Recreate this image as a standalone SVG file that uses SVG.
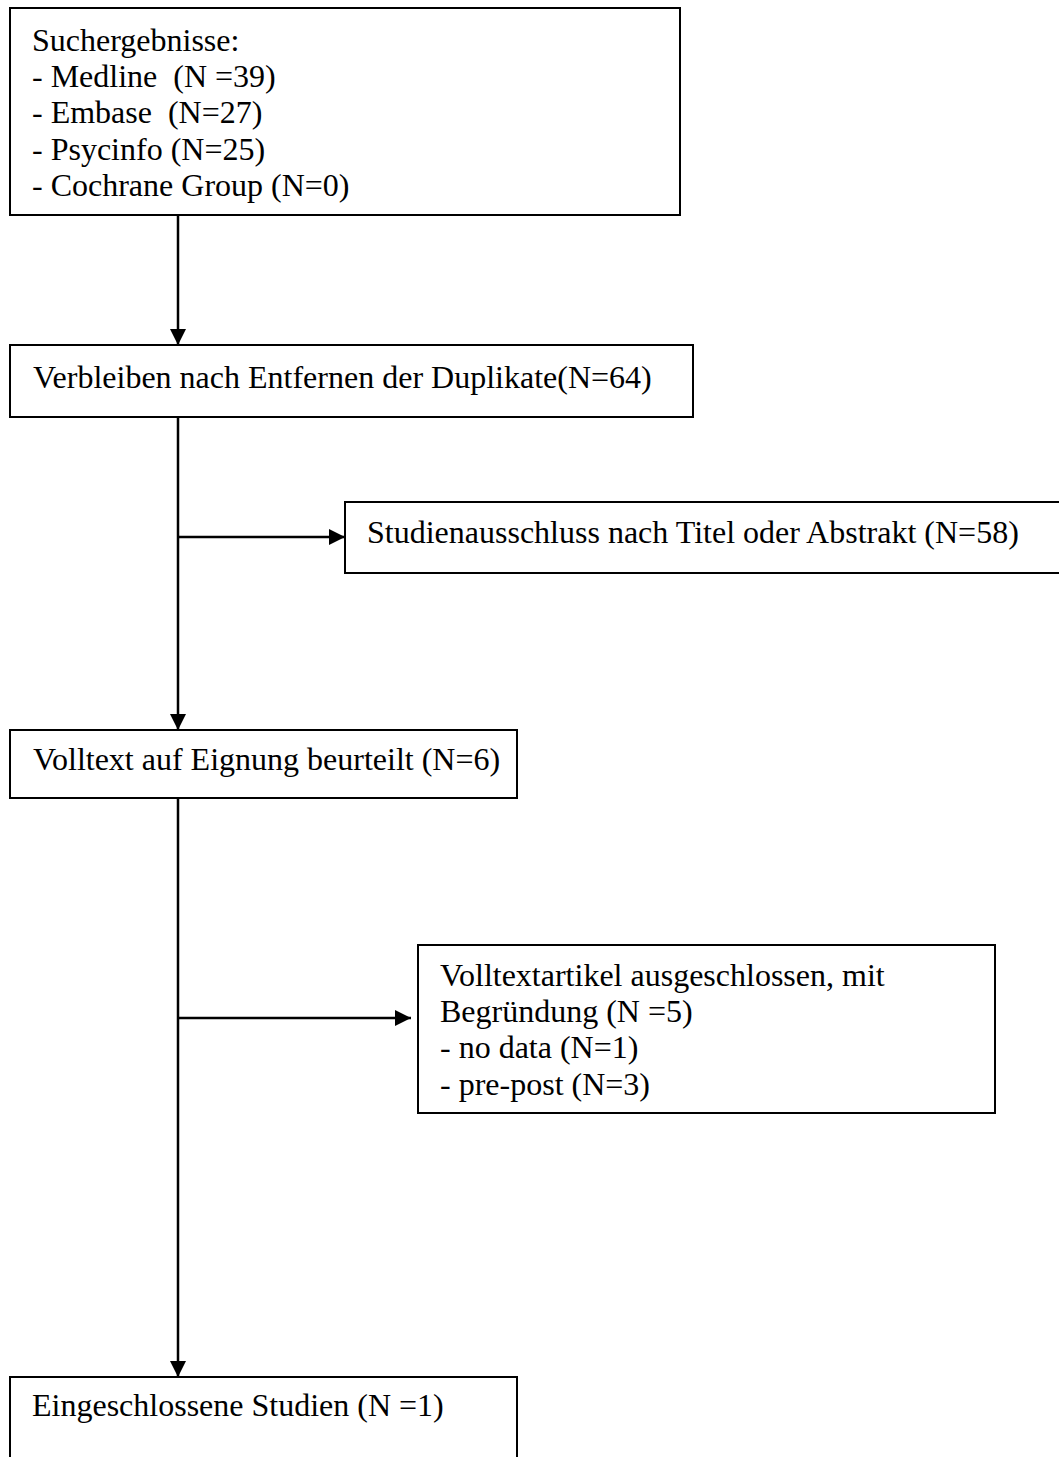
<svg xmlns="http://www.w3.org/2000/svg" width="1059" height="1457" viewBox="0 0 1059 1457">
<style>
.box{fill:#fff;stroke:#000;stroke-width:2}
.t{font-family:"Liberation Serif","Times New Roman",serif;font-size:32px;fill:#000}
.c{stroke:#000;stroke-width:2.5;fill:none}
</style>
<defs>
<marker id="ah" markerUnits="userSpaceOnUse" markerWidth="17" markerHeight="18" refX="16" refY="9" orient="auto">
<path d="M0,1 L16,9 L0,17 Z" fill="#000"/>
</marker>
</defs>
<rect width="1059" height="1457" fill="#fff"/>
<g id="connectors">
<line class="c" x1="178" y1="215" x2="178" y2="345" marker-end="url(#ah)"/>
<line class="c" x1="178" y1="417" x2="178" y2="730" marker-end="url(#ah)"/>
<line class="c" x1="178" y1="537" x2="345" y2="537" marker-end="url(#ah)"/>
<line class="c" x1="178" y1="798" x2="178" y2="1377" marker-end="url(#ah)"/>
<line class="c" x1="178" y1="1018" x2="411" y2="1018" marker-end="url(#ah)"/>
</g>
<g id="n1">
<rect class="box" x="10" y="8" width="670" height="207"/>
<text class="t" x="32" y="51">Suchergebnisse:</text>
<text class="t" x="32" y="87" xml:space="preserve">- Medline  (N =39)</text>
<text class="t" x="32" y="123" xml:space="preserve">- Embase  (N=27)</text>
<text class="t" x="32" y="160">- Psycinfo (N=25)</text>
<text class="t" x="32" y="196">- Cochrane Group (N=0)</text>
</g>
<g id="n2">
<rect class="box" x="10" y="345" width="683" height="72"/>
<text class="t" x="33" y="388">Verbleiben nach Entfernen der Duplikate(N=64)</text>
</g>
<g id="n3">
<rect class="box" x="345" y="502" width="720" height="71"/>
<text class="t" x="367" y="543">Studienausschluss nach Titel oder Abstrakt (N=58)</text>
</g>
<g id="n4">
<rect class="box" x="10" y="730" width="507" height="68"/>
<text class="t" x="33" y="770">Volltext auf Eignung beurteilt (N=6)</text>
</g>
<g id="n5">
<rect class="box" x="418" y="945" width="577" height="168"/>
<text class="t" x="440" y="986">Volltextartikel ausgeschlossen, mit</text>
<text class="t" x="440" y="1022">Begründung (N =5)</text>
<text class="t" x="440" y="1058">- no data (N=1)</text>
<text class="t" x="440" y="1095">- pre-post (N=3)</text>
</g>
<g id="n6">
<rect class="box" x="10" y="1377" width="507" height="100"/>
<text class="t" x="32" y="1416">Eingeschlossene Studien (N =1)</text>
</g>
</svg>
